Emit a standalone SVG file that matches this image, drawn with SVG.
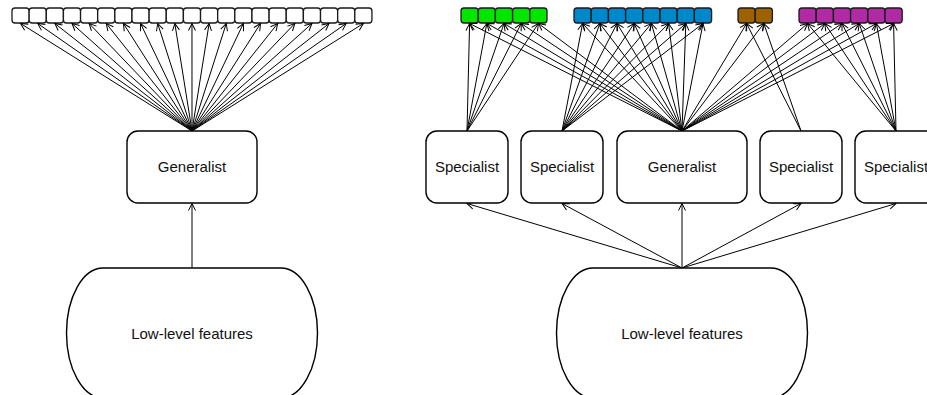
<svg xmlns="http://www.w3.org/2000/svg" width="927" height="395" viewBox="0 0 927 395">
  <defs>
    <marker id="arr" markerWidth="10" markerHeight="10" refX="0" refY="0" viewBox="-8 -5 10 10" markerUnits="userSpaceOnUse" orient="auto" overflow="visible">
      <path d="M-7,-3.5 L0,0 L-7,3.5" fill="none" stroke="#000" stroke-width="1"/>
    </marker>
    <style>
      .node { fill: #fff; stroke: #000; stroke-width: 1.4; }
      .cell { stroke: #1a1a1a; stroke-width: 1.3; }
      .white { fill: #fff; }
      .green { fill: #00e600; }
      .blue { fill: #0087c9; }
      .brown { fill: #9c6100; }
      .purple { fill: #b02ba2; }
      .edge { fill: none; stroke: #000; stroke-width: 1; marker-end: url(#arr); }
      .lbl { font-family: "Liberation Sans", Arial, sans-serif; font-size: 15px; fill: #111; text-anchor: middle; }
    </style>
  </defs>

  <!-- Left panel: output cells -->
  <g id="outputs-left">
    <rect class="cell white" x="12.00" y="8" width="17.14" height="15" rx="3"/>
    <rect class="cell white" x="29.14" y="8" width="17.14" height="15" rx="3"/>
    <rect class="cell white" x="46.28" y="8" width="17.14" height="15" rx="3"/>
    <rect class="cell white" x="63.42" y="8" width="17.14" height="15" rx="3"/>
    <rect class="cell white" x="80.56" y="8" width="17.14" height="15" rx="3"/>
    <rect class="cell white" x="97.70" y="8" width="17.14" height="15" rx="3"/>
    <rect class="cell white" x="114.84" y="8" width="17.14" height="15" rx="3"/>
    <rect class="cell white" x="131.98" y="8" width="17.14" height="15" rx="3"/>
    <rect class="cell white" x="149.12" y="8" width="17.14" height="15" rx="3"/>
    <rect class="cell white" x="166.26" y="8" width="17.14" height="15" rx="3"/>
    <rect class="cell white" x="183.40" y="8" width="17.14" height="15" rx="3"/>
    <rect class="cell white" x="200.54" y="8" width="17.14" height="15" rx="3"/>
    <rect class="cell white" x="217.68" y="8" width="17.14" height="15" rx="3"/>
    <rect class="cell white" x="234.82" y="8" width="17.14" height="15" rx="3"/>
    <rect class="cell white" x="251.96" y="8" width="17.14" height="15" rx="3"/>
    <rect class="cell white" x="269.10" y="8" width="17.14" height="15" rx="3"/>
    <rect class="cell white" x="286.24" y="8" width="17.14" height="15" rx="3"/>
    <rect class="cell white" x="303.38" y="8" width="17.14" height="15" rx="3"/>
    <rect class="cell white" x="320.52" y="8" width="17.14" height="15" rx="3"/>
    <rect class="cell white" x="337.66" y="8" width="17.14" height="15" rx="3"/>
    <rect class="cell white" x="354.80" y="8" width="17.14" height="15" rx="3"/>
  </g>

  <!-- Right panel: output cells, grouped by class family -->
  <g id="outputs-green">
    <rect class="cell green" x="461.0" y="8" width="17.2" height="15" rx="3"/>
    <rect class="cell green" x="478.2" y="8" width="17.2" height="15" rx="3"/>
    <rect class="cell green" x="495.4" y="8" width="17.2" height="15" rx="3"/>
    <rect class="cell green" x="512.6" y="8" width="17.2" height="15" rx="3"/>
    <rect class="cell green" x="529.8" y="8" width="17.2" height="15" rx="3"/>
  </g>
  <g id="outputs-blue">
    <rect class="cell blue" x="574.0" y="8" width="17.2" height="15" rx="3"/>
    <rect class="cell blue" x="591.2" y="8" width="17.2" height="15" rx="3"/>
    <rect class="cell blue" x="608.4" y="8" width="17.2" height="15" rx="3"/>
    <rect class="cell blue" x="625.6" y="8" width="17.2" height="15" rx="3"/>
    <rect class="cell blue" x="642.8" y="8" width="17.2" height="15" rx="3"/>
    <rect class="cell blue" x="660.0" y="8" width="17.2" height="15" rx="3"/>
    <rect class="cell blue" x="677.2" y="8" width="17.2" height="15" rx="3"/>
    <rect class="cell blue" x="694.4" y="8" width="17.2" height="15" rx="3"/>
  </g>
  <g id="outputs-brown">
    <rect class="cell brown" x="738.0" y="8" width="17.2" height="15" rx="3"/>
    <rect class="cell brown" x="755.2" y="8" width="17.2" height="15" rx="3"/>
  </g>
  <g id="outputs-purple">
    <rect class="cell purple" x="799.0" y="8" width="17.2" height="15" rx="3"/>
    <rect class="cell purple" x="816.2" y="8" width="17.2" height="15" rx="3"/>
    <rect class="cell purple" x="833.4" y="8" width="17.2" height="15" rx="3"/>
    <rect class="cell purple" x="850.6" y="8" width="17.2" height="15" rx="3"/>
    <rect class="cell purple" x="867.8" y="8" width="17.2" height="15" rx="3"/>
    <rect class="cell purple" x="885.0" y="8" width="17.2" height="15" rx="3"/>
  </g>

  <!-- Connectors -->
  <g id="connectors">
    <!-- left: generalist to every cell -->
    <path class="edge" d="M192,131 L20.57,23.5"/>
    <path class="edge" d="M192,131 L37.71,23.5"/>
    <path class="edge" d="M192,131 L54.85,23.5"/>
    <path class="edge" d="M192,131 L71.99,23.5"/>
    <path class="edge" d="M192,131 L89.13,23.5"/>
    <path class="edge" d="M192,131 L106.27,23.5"/>
    <path class="edge" d="M192,131 L123.41,23.5"/>
    <path class="edge" d="M192,131 L140.55,23.5"/>
    <path class="edge" d="M192,131 L157.69,23.5"/>
    <path class="edge" d="M192,131 L174.83,23.5"/>
    <path class="edge" d="M192,131 L191.97,23.5"/>
    <path class="edge" d="M192,131 L209.11,23.5"/>
    <path class="edge" d="M192,131 L226.25,23.5"/>
    <path class="edge" d="M192,131 L243.39,23.5"/>
    <path class="edge" d="M192,131 L260.53,23.5"/>
    <path class="edge" d="M192,131 L277.67,23.5"/>
    <path class="edge" d="M192,131 L294.81,23.5"/>
    <path class="edge" d="M192,131 L311.95,23.5"/>
    <path class="edge" d="M192,131 L329.09,23.5"/>
    <path class="edge" d="M192,131 L346.23,23.5"/>
    <path class="edge" d="M192,131 L363.37,23.5"/>
    <!-- left: features to generalist -->
    <path class="edge" d="M192,268 L192,203.5"/>

    <!-- right: specialist 1 to green cells -->
    <path class="edge" d="M467,131 L469.6,23.5"/>
    <path class="edge" d="M467,131 L486.8,23.5"/>
    <path class="edge" d="M467,131 L504.0,23.5"/>
    <path class="edge" d="M467,131 L521.2,23.5"/>
    <path class="edge" d="M467,131 L538.4,23.5"/>
    <!-- right: specialist 2 to blue cells -->
    <path class="edge" d="M562,131 L582.6,23.5"/>
    <path class="edge" d="M562,131 L599.8,23.5"/>
    <path class="edge" d="M562,131 L617.0,23.5"/>
    <path class="edge" d="M562,131 L634.2,23.5"/>
    <path class="edge" d="M562,131 L651.4,23.5"/>
    <path class="edge" d="M562,131 L668.6,23.5"/>
    <path class="edge" d="M562,131 L685.8,23.5"/>
    <path class="edge" d="M562,131 L703.0,23.5"/>
    <!-- right: specialist 3 to brown cells -->
    <path class="edge" d="M801,131 L746.6,23.5"/>
    <path class="edge" d="M801,131 L763.8,23.5"/>
    <!-- right: specialist 4 to purple cells -->
    <path class="edge" d="M896,131 L807.6,23.5"/>
    <path class="edge" d="M896,131 L824.8,23.5"/>
    <path class="edge" d="M896,131 L842.0,23.5"/>
    <path class="edge" d="M896,131 L859.2,23.5"/>
    <path class="edge" d="M896,131 L876.4,23.5"/>
    <path class="edge" d="M896,131 L893.6,23.5"/>
    <!-- right: generalist to every cell -->
    <path class="edge" d="M682,131 L469.6,23.5"/>
    <path class="edge" d="M682,131 L486.8,23.5"/>
    <path class="edge" d="M682,131 L504.0,23.5"/>
    <path class="edge" d="M682,131 L521.2,23.5"/>
    <path class="edge" d="M682,131 L538.4,23.5"/>
    <path class="edge" d="M682,131 L582.6,23.5"/>
    <path class="edge" d="M682,131 L599.8,23.5"/>
    <path class="edge" d="M682,131 L617.0,23.5"/>
    <path class="edge" d="M682,131 L634.2,23.5"/>
    <path class="edge" d="M682,131 L651.4,23.5"/>
    <path class="edge" d="M682,131 L668.6,23.5"/>
    <path class="edge" d="M682,131 L685.8,23.5"/>
    <path class="edge" d="M682,131 L703.0,23.5"/>
    <path class="edge" d="M682,131 L746.6,23.5"/>
    <path class="edge" d="M682,131 L763.8,23.5"/>
    <path class="edge" d="M682,131 L807.6,23.5"/>
    <path class="edge" d="M682,131 L824.8,23.5"/>
    <path class="edge" d="M682,131 L842.0,23.5"/>
    <path class="edge" d="M682,131 L859.2,23.5"/>
    <path class="edge" d="M682,131 L876.4,23.5"/>
    <path class="edge" d="M682,131 L893.6,23.5"/>
    <!-- right: features to each head -->
    <path class="edge" d="M682,268 L467,203.5"/>
    <path class="edge" d="M682,268 L562,203.5"/>
    <path class="edge" d="M682,268 L682,203.5"/>
    <path class="edge" d="M682,268 L801,203.5"/>
    <path class="edge" d="M682,268 L896,203.5"/>
  </g>

  <!-- Left panel nodes -->
  <g id="generalist-left">
    <rect class="node" x="127" y="131" width="130" height="72" rx="11"/>
    <text class="lbl" x="192" y="172">Generalist</text>
  </g>
  <g id="features-left">
    <path class="node" d="M103,268 H281 A36.5,65 0 0 1 281,398 H103 A36.5,65 0 0 1 103,268 Z"/>
    <text class="lbl" x="192" y="339">Low-level features</text>
  </g>

  <!-- Right panel nodes -->
  <g id="specialist-1">
    <rect class="node" x="426" y="131" width="82" height="72" rx="11"/>
    <text class="lbl" x="467" y="172">Specialist</text>
  </g>
  <g id="specialist-2">
    <rect class="node" x="521" y="131" width="82" height="72" rx="11"/>
    <text class="lbl" x="562" y="172">Specialist</text>
  </g>
  <g id="generalist-right">
    <rect class="node" x="617" y="131" width="130" height="72" rx="11"/>
    <text class="lbl" x="682" y="172">Generalist</text>
  </g>
  <g id="specialist-3">
    <rect class="node" x="760" y="131" width="82" height="72" rx="11"/>
    <text class="lbl" x="801" y="172">Specialist</text>
  </g>
  <g id="specialist-4">
    <rect class="node" x="855" y="131" width="82" height="72" rx="11"/>
    <text class="lbl" x="896" y="172">Specialist</text>
  </g>
  <g id="features-right">
    <path class="node" d="M593,268 H771 A36.5,65 0 0 1 771,398 H593 A36.5,65 0 0 1 593,268 Z"/>
    <text class="lbl" x="682" y="339">Low-level features</text>
  </g>
</svg>
